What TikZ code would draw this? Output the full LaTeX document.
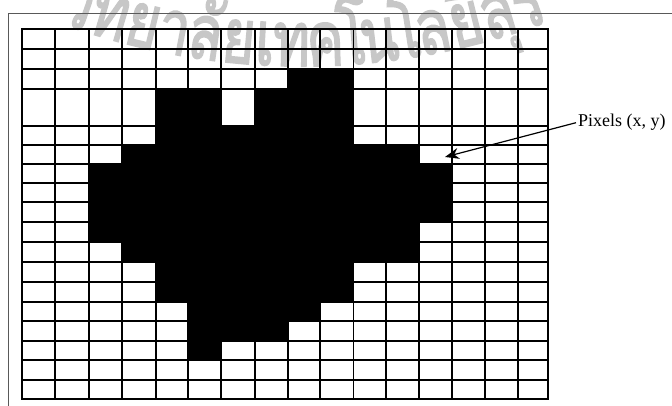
\documentclass[tikz,border=0pt]{standalone}
\usepackage{fontspec}
\setmainfont{Liberation Serif}
\newfontfamily\wmfont[Script=Thai,FakeBold=2.5]{Loma}
\usetikzlibrary{arrows.meta}
\newcommand\wmtext{\wmfont\fontsize{76}{86}\selectfont}
\begin{document}
\begin{tikzpicture}[x=1pt,y=-1pt,
  gridline/.style={line width=1.8pt, black, line cap=rect},
  frameline/.style={line width=0.8pt, black!65},
  cellfill/.style={fill=black},
  lbl/.style={font=\fontsize{18}{20}\selectfont, inner sep=2pt},
  arr/.style={line width=1.2pt, -{Stealth[length=14pt,width=11pt]}},
  wm/.style={font=\wmtext, text=black!22, inner sep=0pt}
]
\useasboundingbox (0,0) rectangle (672,406);
\fill[white] (0,0) rectangle (672,406);
% watermark along an arc (cluster / relative width), drawn behind the grid
\xdef\wmpos{0}
\foreach \c/\w [count=\i] in {วิ/.58,ท/.62,ย/.6,า/.52,ลั/.6,ย/.6,เ/.33,ท/.62,ค/.58,โ/.36,น/.62,โ/.36,ล/.6,ยี/.6,สุ/.6,ร/.5}{
  \pgfmathsetmacro\ang{((\wmpos+0.5*\w)/8.69*505-252.5)/700*57.29578}
  \node[wm, rotate=\ang, xscale=0.74, anchor=base] (wm\i) at ({302+700*sin(\ang)},{-634+700*cos(\ang)}) {\c};
  \pgfmathsetmacro\np{\wmpos+\w}
  \xdef\wmpos{\np}
}
% outer frame (partial)
\draw[frameline] (672,13.3) -- (8.3,13.3) -- (8.3,406);
% grid geometry
\def\XS{{21.7,55,89,122.3,155.7,188,221,255,288,320,353.5,386,419,452.3,485,518.3,548.3}}
\def\YS{{29.3,49.3,69,88.7,126,144.7,163.7,182.7,202,221.7,242.3,262,281.7,301.7,321.3,341,360.3,380.3,399}}
% black pixels: row/first col/last col
\foreach \r/\a/\b in {2/8/9, 3/4/5, 3/7/9, 4/4/9, 5/3/11, 6/2/12, 7/2/12, 8/2/12, 9/2/11, 10/3/11, 11/4/9, 12/4/9, 13/5/8, 14/5/7, 15/5/5}{
  \pgfmathsetmacro\xa{\XS[\a]}
  \pgfmathsetmacro\xb{\XS[\b+1]}
  \pgfmathsetmacro\ya{\YS[\r]}
  \pgfmathsetmacro\yb{\YS[\r+1]}
  \fill[cellfill] (\xa,\ya) rectangle (\xb,\yb);
}
% grid lines
\foreach \x in {21.7,55,89,122.3,155.7,188,221,255,288,320,353.5,386,419,452.3,485,518.3,548.3}
  \draw[gridline] (\x,29.3) -- (\x,399);
\foreach \y in {29.3,49.3,69,88.7,126,144.7,163.7,182.7,202,221.7,242.3,262,281.7,301.7,321.3,341,360.3,380.3,399}
  \draw[gridline] (21.7,\y) -- (548.3,\y);
% label and arrow
\node[lbl, anchor=base west] (lbl) at (576,127) {Pixels (x, y)};
\coordinate (tip) at (445,157);
\draw[arr] (lbl.west) -- (tip);
\end{tikzpicture}
\end{document}
